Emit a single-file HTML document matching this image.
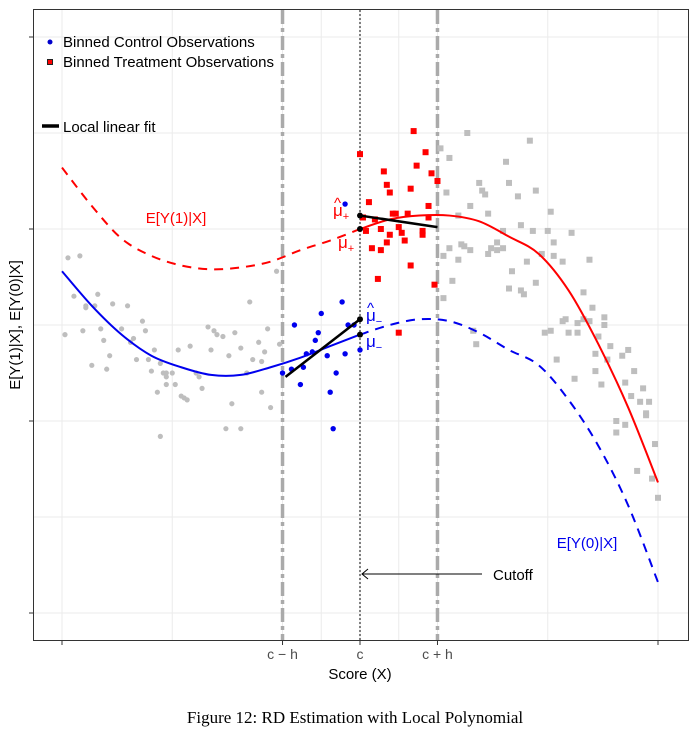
<!DOCTYPE html>
<html><head><meta charset="utf-8"><style>
body{margin:0;background:#fff;}
svg text{font-family:"Liberation Sans",sans-serif;}
</style></head><body>
<svg id="chart" width="696" height="734" xmlns="http://www.w3.org/2000/svg">
<g id="grid"></g>
<g id="marks"></g>
<rect x="33.5" y="9.5" width="655" height="631" fill="none" stroke="#333" stroke-width="1"/>
<g id="axes"></g>
<text x="360" y="679" font-size="15" text-anchor="middle">Score (X)</text>
<text transform="translate(20,325) rotate(-90)" font-size="15" text-anchor="middle">E[Y(1)|X], E[Y(0)|X]</text>
<text x="355" y="723" font-size="17" text-anchor="middle" style="font-family:'Liberation Serif',serif">Figure 12: RD Estimation with Local Polynomial</text>
<g>
<circle cx="50" cy="42" r="2.5" fill="#0000cc"/>
<text x="63" y="47" font-size="15">Binned Control Observations</text>
<rect x="47.5" y="59.5" width="5" height="5" fill="red" stroke="#222" stroke-width="1"/>
<text x="63" y="67" font-size="15">Binned Treatment Observations</text>
<line x1="42" y1="126" x2="59" y2="126" stroke="#000" stroke-width="3.5"/>
<text x="63" y="132" font-size="15">Local linear fit</text>
</g>
<text x="176" y="223" font-size="15" fill="red" text-anchor="middle">E[Y(1)|X]</text>
<text x="587" y="548" font-size="15" fill="#0000ee" text-anchor="middle">E[Y(0)|X]</text>
<g font-size="17" style="font-family:'Liberation Serif',serif">
<text x="334" y="208" fill="red" font-size="15">^</text>
<text x="333" y="216" fill="red">μ<tspan font-size="11" dy="4">+</tspan></text>
<text x="338" y="248" fill="red">μ<tspan font-size="11" dy="4">+</tspan></text>
<text x="367" y="313" fill="#0000ee" font-size="15">^</text>
<text x="366" y="321" fill="#0000ee">μ<tspan font-size="11" dy="4">−</tspan></text>
<text x="366" y="347" fill="#0000ee">μ<tspan font-size="11" dy="4">−</tspan></text>
</g>
<g>
<line x1="482" y1="574" x2="362" y2="574" stroke="#000" stroke-width="1"/>
<polyline points="368,569 362,574 368,579" fill="none" stroke="#000" stroke-width="1"/>
<text x="493" y="580" font-size="15">Cutoff</text>
</g>
</svg>
<script>
const grayCtrlX=[-0.98,-0.94,-0.99,-0.96,-0.92,-0.92,-0.89,-0.88,-0.93,-0.87,-0.86,-0.84,-0.90,-0.85,-0.83,-0.78,-0.80,-0.77,-0.76,-0.75,-0.73,-0.72,-0.69,-0.71,-0.70,-0.67,-0.66,-0.65,-0.63,-0.65,-0.65,-0.62,-0.68,-0.60,-0.59,-0.58,-0.67,-0.61,-0.57,-0.55,-0.54,-0.53,-0.51,-0.49,-0.48,-0.46,-0.50,-0.44,-0.42,-0.40,-0.43,-0.45,-0.40,-0.38,-0.37,-0.36,-0.34,-0.33,-0.32,-0.31,-0.33,-0.30,-0.28,-0.27];
const grayCtrlY=[0.85,0.86,0.45,0.65,0.60,0.59,0.60,0.66,0.47,0.48,0.42,0.34,0.29,0.27,0.61,0.60,0.48,0.41,0.43,0.32,0.52,0.47,0.37,0.32,0.26,0.30,0.25,0.25,0.25,0.23,0.19,0.19,0.15,0.13,0.12,0.11,-0.08,0.37,0.39,0.25,0.23,0.17,0.49,0.47,0.45,0.44,0.37,0.34,0.46,0.38,0.09,-0.04,-0.04,0.25,0.62,0.32,0.41,0.31,0.36,0.48,0.15,0.07,0.78,0.40];
const ctrlX=[-0.05,-0.06,-0.13,-0.22,-0.14,-0.15,-0.04,-0.02,-0.18,-0.16,-0.19,-0.23,-0.26,-0.11,-0.05,0.00,-0.08,-0.20,-0.10,-0.09];
const ctrlY=[1.13,0.62,0.56,0.50,0.46,0.42,0.50,0.50,0.35,0.36,0.28,0.27,0.25,0.34,0.35,0.37,0.25,0.19,0.15,-0.04];
const treatX=[0.18,0.22,0.00,0.19,0.08,0.24,0.26,0.09,0.17,0.10,0.03,0.23,0.11,0.12,0.16,0.01,0.05,0.23,0.07,0.13,0.02,0.10,0.14,0.21,0.21,0.09,0.15,0.04,0.07,0.17,0.06,0.25,0.13];
const treatY=[1.51,1.40,1.39,1.33,1.30,1.29,1.25,1.23,1.21,1.19,1.14,1.12,1.08,1.08,1.08,1.06,1.05,1.06,1.00,1.01,0.99,0.97,0.98,0.99,0.97,0.93,0.94,0.90,0.89,0.81,0.74,0.71,0.46];
const grayTreatX=[0.36,0.27,0.30,0.57,0.49,0.40,0.50,0.41,0.42,0.29,0.59,0.53,0.37,0.43,0.64,0.33,0.54,0.48,0.58,0.63,0.71,0.46,0.34,0.35,0.30,0.37,0.65,0.44,0.46,0.48,0.43,0.61,0.28,0.33,0.65,0.68,0.77,0.56,0.51,0.59,0.31,0.50,0.54,0.55,0.75,0.28,0.78,0.82,0.68,0.69,0.73,0.75,0.77,0.82,0.38,0.62,0.64,0.70,0.73,0.80,0.39,0.84,0.90,0.79,0.88,0.83,0.66,0.79,0.92,0.72,0.81,0.89,0.95,0.91,0.94,0.97,0.96,0.96,0.86,0.89,0.86,0.99,0.93,0.98,1.00];
const grayTreatY=[1.50,1.42,1.37,1.46,1.35,1.24,1.24,1.20,1.18,1.19,1.20,1.17,1.12,1.08,1.09,1.07,1.02,0.99,0.99,0.99,0.98,0.93,0.92,0.91,0.90,0.89,0.93,0.90,0.89,0.90,0.87,0.87,0.86,0.84,0.86,0.83,0.84,0.83,0.78,0.72,0.73,0.69,0.68,0.66,0.67,0.64,0.59,0.54,0.52,0.53,0.51,0.53,0.52,0.50,0.47,0.46,0.47,0.46,0.46,0.44,0.40,0.39,0.37,0.35,0.34,0.32,0.32,0.26,0.26,0.22,0.19,0.20,0.17,0.13,0.10,0.10,0.03,0.04,0.00,-0.02,-0.06,-0.12,-0.26,-0.30,-0.40];
const curveX=[-1,-0.9,-0.8,-0.7,-0.6,-0.5,-0.4,-0.3,-0.2,-0.1,0,0.1,0.2,0.3,0.4,0.5,0.6,0.7,0.8,0.9,1];
const ey1=[1.32,1.12,0.95,0.86,0.81,0.79,0.80,0.83,0.89,0.94,1.00,1.05,1.07,1.07,1.04,0.96,0.87,0.68,0.40,0.07,-0.32];
const ey0=[0.78,0.60,0.45,0.34,0.28,0.24,0.24,0.28,0.33,0.39,0.45,0.50,0.53,0.52,0.46,0.37,0.29,0.11,-0.13,-0.44,-0.84];
const fitLeftX=[-0.25,0], fitLeftY=[0.23,0.53];
const fitRightX=[0,0.26], fitRightY=[1.07,1.01];
const muY=[1.07,1.00,0.53,0.45];
const bandwidth=0.26;
const yTicks=[2,1,0,-1], yMinor=[1.5,0.5,-0.5];
const xTickVals=[-1,-bandwidth,0,bandwidth,1], xTickLabels=["","c − h","c","c + h",""];

const X=v=>360+v*298, Y=v=>421-v*192;
const NS="http://www.w3.org/2000/svg";
function mk(parent,tag,attrs){const e=document.createElementNS(NS,tag);for(const k in attrs)e.setAttribute(k,attrs[k]);document.getElementById(parent).appendChild(e);return e;}
const xMinor=[(-1-bandwidth)/2,-bandwidth/2,bandwidth/2,(1+bandwidth)/2];
xTickVals.concat(xMinor).forEach(v=>{const l=mk('grid','line',{x1:X(v),x2:X(v),y1:10,y2:640,stroke:'#ebebeb','stroke-width':1});

});
yTicks.concat(yMinor).forEach(v=>{const l=mk('grid','line',{x1:34,x2:688,y1:Y(v),y2:Y(v),stroke:'#ebebeb','stroke-width':1});

});
yTicks.forEach(v=>{const t=mk('axes','line',{x1:29,x2:33,y1:Y(v),y2:Y(v),stroke:'#333'});

});
xTickVals.forEach((v,i)=>{const t=mk('axes','line',{x1:X(v),x2:X(v),y1:641,y2:645,stroke:'#333'});


if(xTickLabels[i]){const tx=mk('axes','text',{x:X(v),y:659,'font-size':14,'text-anchor':'middle',fill:'#4d4d4d'});tx.textContent=xTickLabels[i];

}});
[-bandwidth,bandwidth].forEach(v=>{const l=mk('marks','line',{x1:X(v),x2:X(v),y1:10,y2:640,stroke:'#aaaaaa','stroke-width':3.5,'stroke-dasharray':'14,4,4,4'});

});
const cl=mk('marks','line',{x1:X(0),x2:X(0),y1:10,y2:640,stroke:'#000','stroke-width':1,'stroke-dasharray':'2,2'});


grayCtrlX.forEach((x,i)=>{const c=mk('marks','circle',{cx:X(x),cy:Y(grayCtrlY[i]),r:2.6,fill:'#bebebe'});

});
grayTreatX.forEach((x,i)=>{const r=mk('marks','rect',{x:X(x)-3,y:Y(grayTreatY[i])-3,width:6,height:6,fill:'#bebebe'});

});
function smoothPath(xs,ys,from,to){const p=[];for(let i=0;i<xs.length;i++)if(xs[i]>=from-1e-9&&xs[i]<=to+1e-9)p.push([X(xs[i]),Y(ys[i])]);
let d='M'+p[0][0]+','+p[0][1];for(let i=0;i<p.length-1;i++){const p0=p[i-1]||p[i],p1=p[i],p2=p[i+1],p3=p[i+2]||p2;
d+=' C'+(p1[0]+(p2[0]-p0[0])/6)+','+(p1[1]+(p2[1]-p0[1])/6)+' '+(p2[0]-(p3[0]-p1[0])/6)+','+(p2[1]-(p3[1]-p1[1])/6)+' '+p2[0]+','+p2[1];}return d;}
const c1=mk('marks','path',{d:smoothPath(curveX,ey1,-1,0),fill:'none',stroke:'red','stroke-width':2,'stroke-dasharray':'9,7'});


const c2=mk('marks','path',{d:smoothPath(curveX,ey1,0,1),fill:'none',stroke:'red','stroke-width':2});


const c3=mk('marks','path',{d:smoothPath(curveX,ey0,-1,0),fill:'none',stroke:'#0000ee','stroke-width':2});


const c4=mk('marks','path',{d:smoothPath(curveX,ey0,0,1),fill:'none',stroke:'#0000ee','stroke-width':2,'stroke-dasharray':'9,7'});


ctrlX.forEach((x,i)=>{const c=mk('marks','circle',{cx:X(x),cy:Y(ctrlY[i]),r:2.7,fill:'#0000ee'});

});
treatX.forEach((x,i)=>{const r=mk('marks','rect',{x:X(x)-3,y:Y(treatY[i])-3,width:6,height:6,fill:'red'});

});
const f1=mk('marks','line',{x1:X(fitLeftX[0]),y1:Y(fitLeftY[0]),x2:X(fitLeftX[1]),y2:Y(fitLeftY[1]),stroke:'#000','stroke-width':2.5});


const f2=mk('marks','line',{x1:X(fitRightX[0]),y1:Y(fitRightY[0]),x2:X(fitRightX[1]),y2:Y(fitRightY[1]),stroke:'#000','stroke-width':2.5});


muY.forEach(v=>{const c=mk('marks','circle',{cx:X(0),cy:Y(v),r:3,fill:'#000'});

});
</script>
</body></html>
